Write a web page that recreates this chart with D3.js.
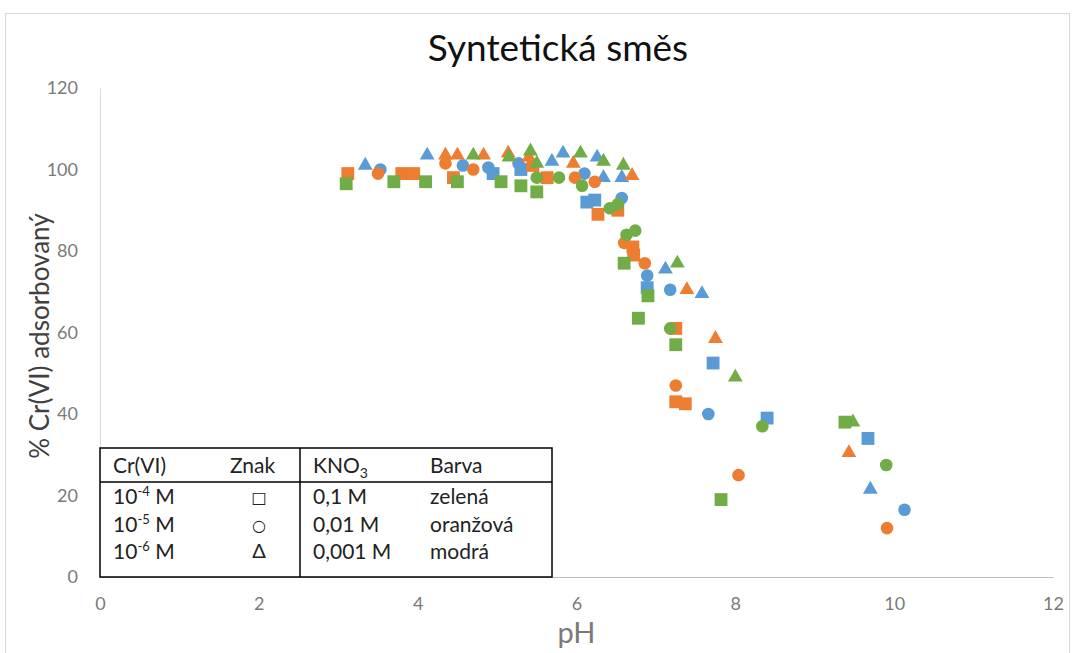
<!DOCTYPE html>
<html>
<head>
<meta charset="utf-8">
<script src="https://cdn.jsdelivr.net/npm/d3@7"></script>
<style>
  body { margin: 0; background: #fff; }
  text { font-family: Lato, "Open Sans", sans-serif; }
</style>
</head>
<body>
<div id="chart"></div>
<script>
// pH vs % Cr(VI) adsorbed; colour = KNO3, shape = Cr(VI)
const greenSquares = [[3.1,96.5],[3.7,97],[4.1,97],[4.5,97],[5.05,97],[5.3,96],[5.5,94.5],[6.6,77],[6.78,63.5],[6.9,69],[7.25,57],[7.82,19],[9.38,38]];
const greenCircles = [[5.5,98],[5.78,98],[6.07,96],[6.42,90.5],[6.52,91.5],[6.63,84],[6.74,85],[7.18,61],[8.34,37],[9.9,27.5]];
const greenTriangles = [[4.7,103.5],[5.15,103],[5.42,104.5],[5.5,101.5],[6.05,104],[6.34,102],[6.59,101],[7.27,77],[8.0,49],[9.48,38]];
const orangeSquares = [[3.12,99],[3.8,99],[3.95,99],[4.45,98],[5.45,101],[5.63,98],[6.27,89],[6.52,90],[6.71,81],[6.72,79],[7.25,61],[7.25,43],[7.37,42.5]];
const orangeCircles = [[3.5,99],[4.35,101.5],[4.7,100],[5.98,98],[6.23,97],[6.6,82],[6.86,77],[7.25,47],[8.04,25],[9.91,12]];
const orangeTriangles = [[4.35,103.5],[4.5,103.5],[4.83,103.5],[5.14,104],[5.4,103],[5.96,101.5],[6.7,98.5],[7.39,70.5],[7.75,58.5],[9.43,30.5]];
const blueSquares = [[4.95,99],[5.3,100],[6.13,92],[6.23,92.5],[6.89,71],[7.72,52.5],[8.4,39],[9.67,34]];
const blueCircles = [[3.53,100],[4.57,101],[4.89,100.5],[5.27,101.5],[6.1,99],[6.57,93],[6.89,74],[7.18,70.5],[7.66,40],[10.13,16.5]];
const blueTriangles = [[3.34,101],[4.12,103.5],[5.69,102],[5.83,104],[6.26,103],[6.34,98],[6.57,98],[7.12,75.5],[7.58,69.5],[9.7,21.5]];

const xTicks = [0, 2, 4, 6, 8, 10, 12];
const yTicks = [0, 20, 40, 60, 80, 100, 120];

const legendHeader = ["Cr(VI)", "Znak", "KNO", "Barva"];
const legendRows = [
    { cr: "10", exp: "-4", sign: "□", kno3: "0,1 M", color: "zelená" },
    { cr: "10", exp: "-5", sign: "○", kno3: "0,01 M", color: "oranžová" },
    { cr: "10", exp: "-6", sign: "Δ", kno3: "0,001 M", color: "modrá" },
];

const colors = { blue: "#5b9bd5", orange: "#ed7d31", green: "#70ad47" };

const series = [
    { data: blueTriangles, color: colors.blue, shape: "triangle" },
    { data: blueCircles, color: colors.blue, shape: "circle" },
    { data: blueSquares, color: colors.blue, shape: "square" },
    { data: orangeTriangles, color: colors.orange, shape: "triangle" },
    { data: orangeCircles, color: colors.orange, shape: "circle" },
    { data: orangeSquares, color: colors.orange, shape: "square" },
    { data: greenTriangles, color: colors.green, shape: "triangle" },
    { data: greenCircles, color: colors.green, shape: "circle" },
    { data: greenSquares, color: colors.green, shape: "square" },
];

const width = 1076, height = 653;
const margins = { top: 88, right: 23, bottom: 76, left: 100 };

const svg = d3.select("#chart").append("svg")
    .attr("width", width)
    .attr("height", height);

// chart frame
svg.append("rect")
    .attr("x", 5.5).attr("y", 13.5)
    .attr("width", 1064).attr("height", 660)
    .attr("fill", "none")
    .attr("stroke", "#d9d9d9");

const x = d3.scaleLinear().domain([0, 12]).range([margins.left, width - margins.right]);
const y = d3.scaleLinear().domain([0, 120]).range([height - margins.bottom, margins.top]);

// title
svg.append("text")
    .attr("x", 558).attr("y", 61)
    .attr("text-anchor", "middle")
    .attr("font-size", 37)
    .attr("fill", "#111")
    .text("Syntetická směs");

// axes
const xAxis = svg.append("g")
    .attr("transform", `translate(0,${y(0)})`)
    .call(d3.axisBottom(x).tickValues(xTicks).tickSize(0).tickPadding(20));
xAxis.select(".domain").attr("stroke", "#bfbfbf");
xAxis.selectAll("text").attr("font-size", 18).attr("fill", "#7a7a7a")
    .style("font-family", "Lato, sans-serif");

const yAxis = svg.append("g")
    .attr("transform", `translate(${x(0)},0)`)
    .call(d3.axisLeft(y).tickValues(yTicks).tickSize(0).tickPadding(22));
yAxis.select(".domain").attr("stroke", "#d9d9d9");
yAxis.selectAll("text").attr("font-size", 18).attr("fill", "#7a7a7a")
    .style("font-family", "Lato, sans-serif");

svg.append("text")
    .attr("x", x(6)).attr("y", 643)
    .attr("text-anchor", "middle")
    .attr("font-size", 29)
    .attr("fill", "#7a7a7a")
    .text("pH");

svg.append("text")
    .attr("transform", `translate(40,336) rotate(-90)`)
    .attr("text-anchor", "middle")
    .attr("dy", "0.35em")
    .attr("font-size", 26)
    .attr("fill", "#404040")
    .text("% Cr(VI) adsorbovaný");

// markers
const symbolTypes = { square: d3.symbolSquare, circle: d3.symbolCircle, triangle: d3.symbolTriangle };
const symbolSizes = { square: 165, circle: 125, triangle: 95 };

series.forEach(s => {
    const sym = d3.symbol().type(symbolTypes[s.shape]).size(symbolSizes[s.shape]);
    svg.append("g").selectAll("path")
        .data(s.data)
        .enter().append("path")
        .attr("d", sym)
        .attr("transform", d => `translate(${x(d[0])},${y(d[1])})`)
        .attr("fill", s.color);
});

// legend table
const table = svg.append("g").attr("class", "legend");
const tbl = { left: 100, right: 552, top: 448, headLine: 482, bottom: 577, divider: 300 };
const colX = [113, 230, 313, 430];
const fs = 21;

table.append("rect")
    .attr("x", tbl.left).attr("y", tbl.top)
    .attr("width", tbl.right - tbl.left).attr("height", tbl.bottom - tbl.top)
    .attr("fill", "#fff")
    .attr("stroke", "#000").attr("stroke-width", 1.5);
table.append("line")
    .attr("x1", tbl.left).attr("x2", tbl.right)
    .attr("y1", tbl.headLine).attr("y2", tbl.headLine)
    .attr("stroke", "#000").attr("stroke-width", 1.5);
table.append("line")
    .attr("x1", tbl.divider).attr("x2", tbl.divider)
    .attr("y1", tbl.top).attr("y2", tbl.bottom)
    .attr("stroke", "#000").attr("stroke-width", 1.5);

legendHeader.forEach((h, i) => {
    const t = table.append("text")
        .attr("x", colX[i]).attr("y", 473)
        .attr("font-size", fs)
        .attr("fill", "#222")
        .text(h);
    if (h === "KNO") {
        t.append("tspan").attr("dy", 5).attr("font-size", 14).text("3");
    }
});

const rowY = [504, 532, 559];
legendRows.forEach((r, i) => {
    const t = table.append("text")
        .attr("x", colX[0]).attr("y", rowY[i])
        .attr("font-size", fs).attr("fill", "#222");
    t.append("tspan").text(r.cr);
    t.append("tspan").attr("dy", -8).attr("font-size", 13).text(r.exp);
    t.append("tspan").attr("dy", 8).text(" M");

    table.append("text")
        .attr("x", 259).attr("y", rowY[i] - 1)
        .attr("text-anchor", "middle")
        .attr("font-size", r.sign === "Δ" ? 20 : 16).attr("fill", "#222")
        .style("font-family", r.sign === "Δ" ? "Lato, sans-serif" : "DejaVu Sans, sans-serif")
        .text(r.sign);
    table.append("text")
        .attr("x", colX[2]).attr("y", rowY[i])
        .attr("font-size", fs).attr("fill", "#222")
        .text(r.kno3);
    table.append("text")
        .attr("x", colX[3]).attr("y", rowY[i])
        .attr("font-size", fs).attr("fill", "#222")
        .text(r.color);
});
</script>
</body>
</html>
